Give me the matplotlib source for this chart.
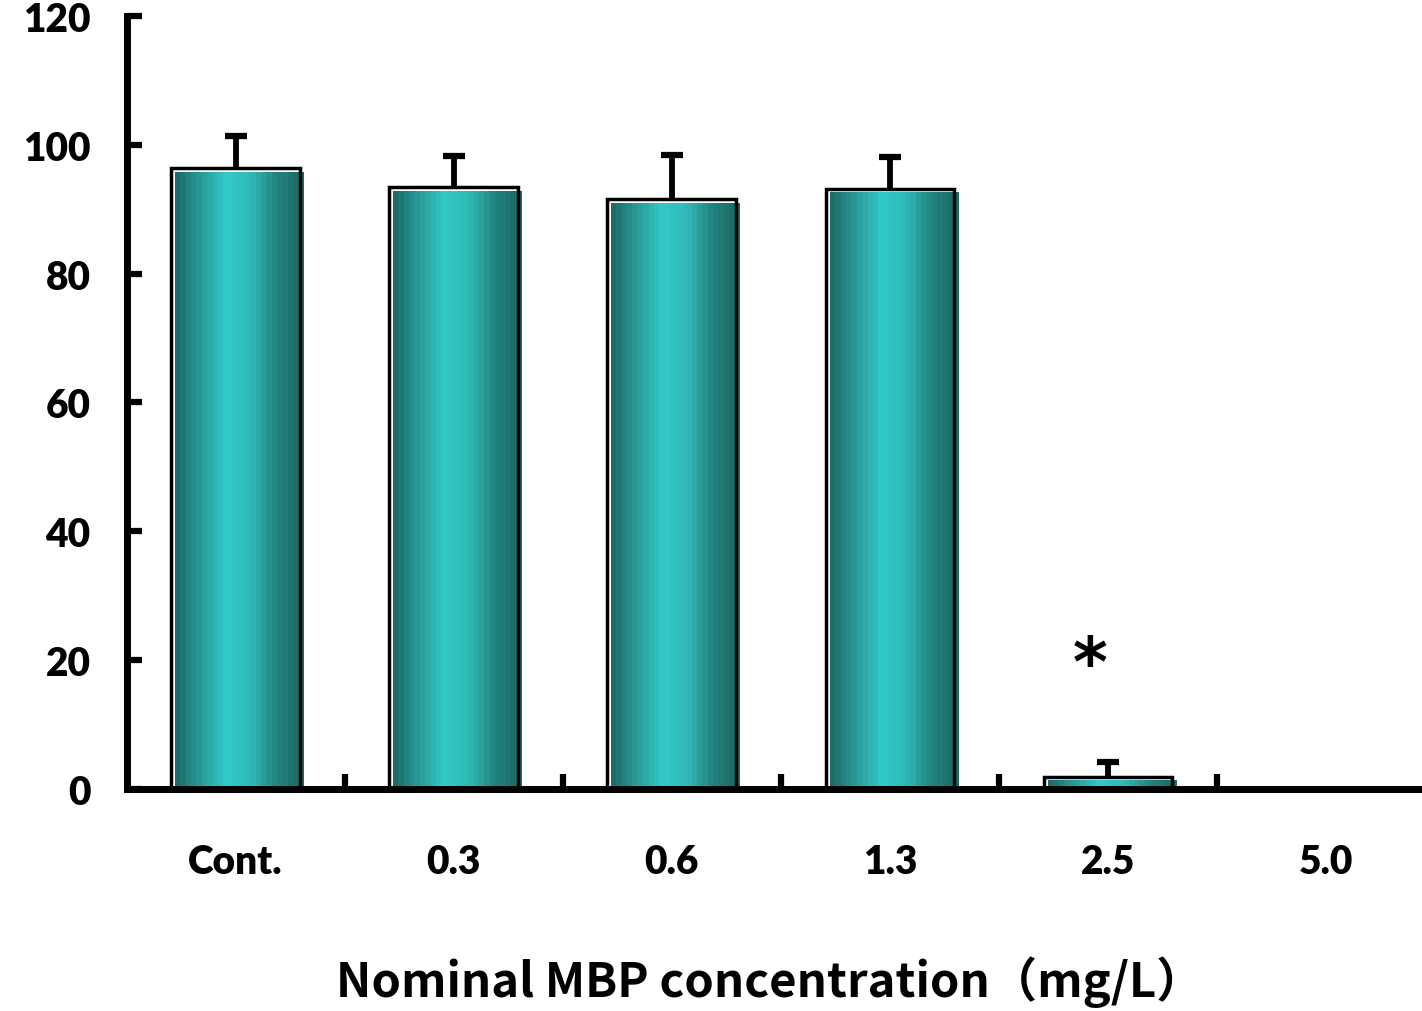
import numpy as np
import matplotlib
matplotlib.use('Agg')
import matplotlib.pyplot as plt
from matplotlib.colors import LinearSegmentedColormap

# data
categories = ['Cont.', '0.3', '0.6', '1.3', '2.5', '5.0']
means = [96.4, 93.4, 91.6, 93.2, 1.9, 0.0]
errors = [5.0, 4.8, 6.8, 4.9, 2.2, 0.0]
star_x = 3.92
star_y = 19

plt.rcParams['font.family'] = ['Lato', 'DejaVu Sans']
plt.rcParams['font.weight'] = 'heavy'

fig = plt.figure(figsize=(14.22, 10.12), dpi=100)
ax = fig.add_axes([0.089, 0.2195, 0.911, 0.7637])

x = np.arange(len(categories))
width = 0.59
dx = 0.0183   # fill shifted right/down from the outline
dy = 0.62

cmap = LinearSegmentedColormap.from_list(
    'teal', ['#1c6d6a', '#2a9e9b', '#33cac8', '#2fb8b5', '#23847f', '#1b6864'])
grad = np.linspace(0, 1, 24).reshape(1, -1)

for xi, m in zip(x, means):
    if m - dy <= 0:
        top = m * 0.6
    else:
        top = m - dy
    if m > 0:
        ax.imshow(grad, cmap=cmap, aspect='auto', interpolation='nearest',
                  extent=[xi - width / 2 + dx, xi + width / 2 + dx, 0, top],
                  zorder=2)

ax.bar(x, means, width=width, fill=False, edgecolor='black', linewidth=2.5, zorder=3)

mask = np.array(errors) > 0
eb = ax.errorbar(x[mask], np.array(means)[mask],
                 yerr=[np.zeros(mask.sum()), np.array(errors)[mask]],
                 fmt='none', ecolor='black', elinewidth=4.2, capsize=8, capthick=4.5, zorder=4)
eb[1][0].set_visible(False)  # only the upper cap

ax.text(star_x, star_y, '*', ha='center', va='center', fontsize=48,
        family='DejaVu Sans', fontweight='bold')

ax.set_xlim(-0.5, 5.44)
ax.set_ylim(0, 120)
ax.set_yticks(range(0, 121, 20))
ax.set_xticks(x)
ax.set_xticklabels(categories)
ax.set_xticks(x[:-1] + 0.5, minor=True)

ax.tick_params(axis='y', direction='in', length=11, width=4.5, labelsize=28, pad=26)
ax.tick_params(axis='x', which='major', length=0, labelsize=28, pad=39)
ax.tick_params(axis='x', which='minor', direction='in', length=11, width=4.5)
for lab in ax.get_xticklabels() + ax.get_yticklabels():
    lab.set_fontweight('heavy')

for s in ['top', 'right']:
    ax.spines[s].set_visible(False)
for s in ['left', 'bottom']:
    ax.spines[s].set_linewidth(5)
    ax.spines[s].set_zorder(5)

fig.text(0.5415, 0.029, 'Nominal MBP concentration（mg/L）', ha='center', va='center',
         fontsize=34, fontweight='bold', family=['Noto Sans CJK JP', 'DejaVu Sans'])

plt.savefig('out.png', dpi=100)
